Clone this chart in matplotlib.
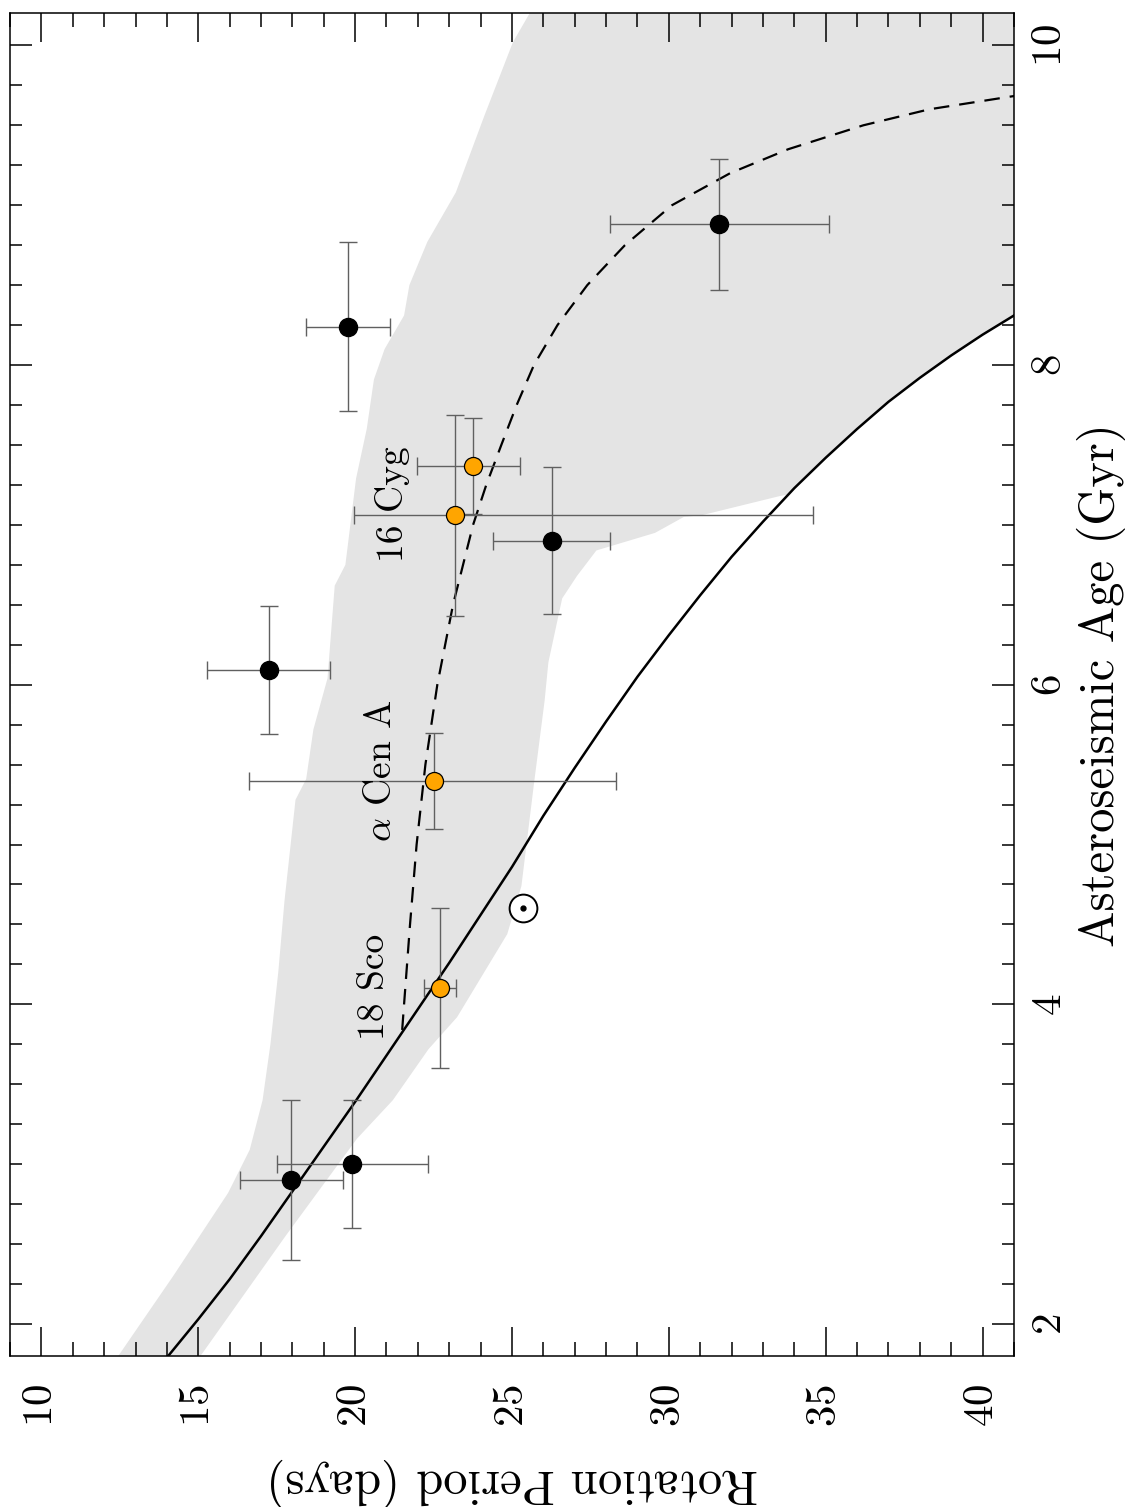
import numpy as np
import matplotlib
matplotlib.use('Agg')
import matplotlib.pyplot as plt
from matplotlib.ticker import MultipleLocator

plt.rcParams['font.family'] = ['cmr10', 'DejaVu Serif']
plt.rcParams['mathtext.fontset'] = 'cm'
plt.rcParams['axes.formatter.use_mathtext'] = True

# black points: rotation period (days) and asteroseismic age (Gyr)
black_p = [17.97, 19.91, 17.24, 19.78, 26.26, 31.61]
black_perr = [1.65, 2.40, 1.96, 1.33, 1.85, 3.50]
black_a = [2.90, 3.00, 6.09, 8.24, 6.90, 8.88]
black_aerr = [0.50, 0.40, 0.40, 0.53, 0.46, 0.41]

# orange points (18 Sco, alpha Cen A, 16 Cyg A, 16 Cyg B)
orange_p = [22.71, 22.51, 23.18, 23.75]
orange_perr_lo = [0.50, 5.90, 3.20, 1.78]
orange_perr_hi = [0.50, 5.80, 11.43, 1.50]
orange_a = [4.10, 5.40, 7.06, 7.37]
orange_aerr = [0.50, 0.30, 0.63, 0.30]

sun_p = 25.36
sun_a = 4.60

# standard spin-down (solid)
solid_p = [14, 15, 16, 17, 18, 19, 20, 21, 22, 23, 24, 25, 26, 27, 28, 29, 30,
           31, 32, 33, 34, 35, 36, 37, 38, 39, 40, 41, 42]
solid_a = [1.79, 2.03, 2.28, 2.55, 2.83, 3.11, 3.39, 3.68, 3.97, 4.26, 4.56, 4.86, 5.18, 5.48, 5.77, 6.05, 6.31,
           6.56, 6.80, 7.02, 7.23, 7.42, 7.60, 7.77, 7.92, 8.06, 8.19, 8.31, 8.43]

# weakened braking (dashed)
dash_p = [21.50, 21.56, 21.75, 21.96, 22.24, 22.62, 23.12, 23.76, 24.18, 24.66, 25.15, 25.70, 26.45,
          27.40, 28.60, 30.10, 31.95, 33.80, 36.20, 38.30, 40.90, 42.30]
dash_a = [3.84, 4.00, 4.50, 5.00, 5.50, 6.00, 6.50, 7.00, 7.25, 7.50, 7.75, 8.00, 8.25,
          8.50, 8.75, 9.00, 9.20, 9.35, 9.50, 9.60, 9.68, 9.72]

# grey band
band_left_p = [12.2, 12.45, 14.2, 15.95, 16.64, 17.05, 17.3, 17.55, 17.75, 18.1, 18.44, 18.67, 19.12, 19.35, 19.69, 20.03, 20.37, 20.6,
               20.94, 21.56, 21.73, 22.3, 23.21, 24.12, 25.03, 25.59, 25.7]
band_left_a = [1.70, 1.80, 2.30, 2.82, 3.09, 3.40, 3.75, 4.20, 4.65, 5.28, 5.41, 5.72, 6.04, 6.62, 6.75, 7.29, 7.60, 7.91,
               8.10, 8.31, 8.50, 8.77, 9.08, 9.56, 10.02, 10.21, 10.40]
band_right_p = [15.15, 15.07, 17.78, 20.06, 21.2, 22.34, 23.25, 24.85, 25.3, 25.7, 26.04, 26.16, 26.6, 27.07, 27.69, 29.56, 30.48, 31.04,
                33.53, 33.8, 35.0, 36.0, 37.0, 38.0, 39.0, 40.0, 41.0, 42.5, 42.5]
band_right_a = [1.70, 1.80, 2.55, 3.16, 3.40, 3.72, 3.92, 4.44, 4.74, 5.38, 5.90, 6.14, 6.54, 6.68, 6.84, 6.95, 7.05, 7.06,
                7.18, 7.19, 7.42, 7.60, 7.77, 7.92, 8.06, 8.19, 8.31, 8.48, 10.40]

labels = ['18 Sco', r'$\alpha$ Cen A', '16 Cyg']
label_p = [20.62, 20.85, 21.2]
label_a = [4.11, 5.46, 7.13]

fig = plt.figure(figsize=(11.25, 15.07), dpi=100)
ax = fig.add_axes([0.0089, 0.1002, 0.8924, 0.8909])

bp = band_left_p + band_right_p[::-1]
ba = band_left_a + band_right_a[::-1]
ax.fill(bp, ba, color='#e4e4e4', lw=0, zorder=0)

ax.plot(solid_p, solid_a, color='black', lw=1.8, zorder=2)
ax.plot(dash_p, dash_a, color='black', lw=1.6, ls=(0, (7, 4.5)), zorder=2)

ax.errorbar(black_p, black_a, xerr=black_perr, yerr=black_aerr, fmt='none',
            ecolor='#606060', elinewidth=1.0, capsize=6.5, capthick=1.0, zorder=3)
ax.errorbar(orange_p, orange_a, xerr=[orange_perr_lo, orange_perr_hi], yerr=orange_aerr, fmt='none',
            ecolor='#606060', elinewidth=1.0, capsize=6.5, capthick=1.0, zorder=3)
ax.plot(black_p, black_a, 'o', color='black', ms=13, zorder=4)
ax.plot(orange_p, orange_a, 'o', mfc='#ffa500', mec='black', mew=0.9, ms=13, zorder=4)

ax.plot(sun_p, sun_a, 'o', mfc='white', mec='black', mew=1.4, ms=20, zorder=4)
ax.plot(sun_p, sun_a, 'o', color='black', ms=3.5, zorder=5)

for t, p, a in zip(labels, label_p, label_a):
    ax.text(p, a, t, rotation=90, ha='center', va='center', fontsize=27, zorder=5)

ax.set_xlim(9.0, 41.0)
ax.set_ylim(1.8, 10.2)

ax.xaxis.set_major_locator(MultipleLocator(5))
ax.xaxis.set_minor_locator(MultipleLocator(1))
ax.yaxis.set_major_locator(MultipleLocator(2))
ax.yaxis.set_minor_locator(MultipleLocator(0.25))

ax.yaxis.tick_right()
ax.tick_params(which='both', direction='in', top=True, bottom=True, left=True, right=True,
               labelleft=False, labeltop=False, labelright=True, labelbottom=True, width=1.1)
ax.tick_params(axis='x', which='major', length=21, labelsize=31, labelrotation=90, pad=20)
ax.tick_params(axis='x', which='minor', length=10)
ax.tick_params(axis='y', which='major', length=15.5, labelsize=31, labelrotation=90, pad=13)
ax.tick_params(axis='y', which='minor', length=8.3)
for lbl in ax.yaxis.get_majorticklabels():
    lbl.set_va('center')

for s in ax.spines.values():
    s.set_linewidth(1.1)

ax.set_xlabel('Rotation Period (days)', fontsize=35, rotation=180, va='top')
ax.xaxis.set_label_coords(0.5, -0.076)
ax.yaxis.set_label_position('right')
ax.set_ylabel('Asteroseismic Age (Gyr)', fontsize=35, rotation=90)
ax.yaxis.set_label_coords(1.0627, 0.5)

fig.savefig('out.png', dpi=100)
